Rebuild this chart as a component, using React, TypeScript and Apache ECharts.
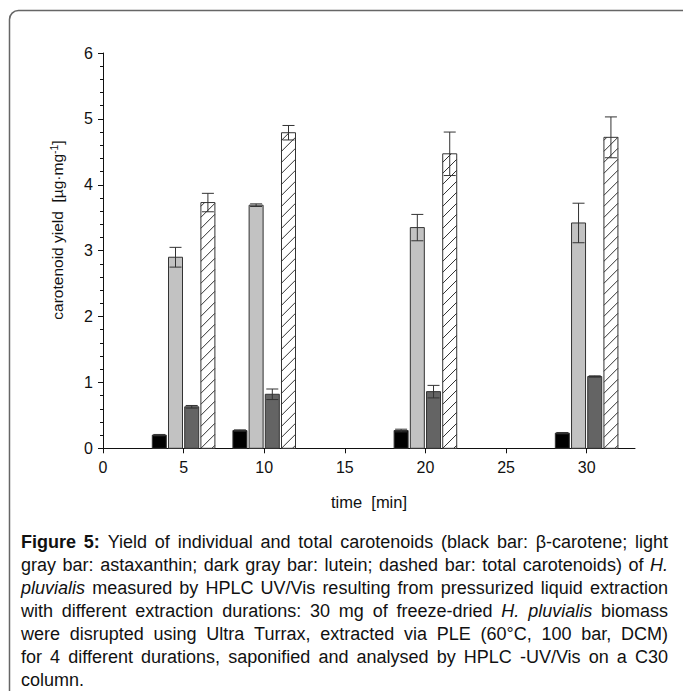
import React, { useEffect, useRef } from "react";
import * as echarts from "echarts";

// ---- data ----
const times = [5, 10, 20, 30];
const betaCarotene = [0.2, 0.27, 0.27, 0.23];
const betaCaroteneErr = [0.01, 0.01, 0.02, 0.01];
const astaxanthin = [2.9, 3.69, 3.35, 3.42];
const astaxanthinErr = [0.15, 0.02, 0.2, 0.3];
const lutein = [0.63, 0.82, 0.86, 1.09];
const luteinErr = [0.02, 0.08, 0.095, 0.01];
const totalCarotenoids = [3.73, 4.79, 4.47, 4.72];
const totalCarotenoidsErr = [0.14, 0.11, 0.33, 0.31];
const xTickValues = [0, 5, 10, 15, 20, 25, 30];

const xAxisTitle = "time  [min]";
const captionLines = [
  "**Figure** **5:** Yield of individual and total carotenoids (black bar: β-carotene; light",
  "gray bar: astaxanthin; dark gray bar: lutein; dashed bar: total carotenoids) of *H.*",
  "*pluvialis* measured by HPLC UV/Vis resulting from pressurized liquid extraction",
  "with different extraction durations: 30 mg of freeze-dried *H.* *pluvialis* biomass",
  "were disrupted using Ultra Turrax, extracted via PLE (60°C, 100 bar, DCM)",
  "for 4 different durations, saponified and analysed by HPLC -UV/Vis on a C30",
  "column.",
];

const FONT = '"Liberation Sans", Arial, sans-serif';

function makeRender(offset: number, fill: string, hatched: boolean) {
  return (params: any, api: any) => {
    const t = api.value(0);
    const v = api.value(1);
    const e = api.value(2);
    const top = api.coord([t, v]);
    const base = api.coord([t, 0]);
    const hi = api.coord([t, v + e]);
    const lo = api.coord([t, v - e]);
    const w = 14;
    const cx = top[0] + offset;
    const x0 = cx - w / 2;
    const yTop = top[1];
    const yBase = base[1];
    const children: any[] = [];
    children.push({
      type: "rect",
      shape: { x: x0, y: yTop, width: w, height: yBase - yTop },
      style: { fill, stroke: "#333", lineWidth: 1 },
    });
    if (hatched) {
      const step = 11;
      for (let c = yBase + w - 3; c > yTop; c -= step) {
        const uMin = Math.max(0, c - yBase);
        const uMax = Math.min(w, c - yTop);
        if (uMax - uMin > 0.5) {
          children.push({
            type: "line",
            shape: { x1: x0 + uMin, y1: c - uMin, x2: x0 + uMax, y2: c - uMax },
            style: { stroke: "#333", lineWidth: 1 },
          });
        }
      }
    }
    const cap = 6;
    const es = { stroke: "#333", lineWidth: 1 };
    children.push({ type: "line", shape: { x1: cx, y1: hi[1], x2: cx, y2: lo[1] }, style: es });
    children.push({ type: "line", shape: { x1: cx - cap, y1: hi[1], x2: cx + cap, y2: hi[1] }, style: es });
    children.push({ type: "line", shape: { x1: cx - cap, y1: lo[1], x2: cx + cap, y2: lo[1] }, style: es });
    return { type: "group", children };
  };
}

function buildCaption(): any[] {
  const els: any[] = [];
  const canvas = document.createElement("canvas");
  const ctx = canvas.getContext("2d") as CanvasRenderingContext2D;
  const size = 18;
  const L = 21;
  const R = 668;
  const y0 = 542;
  const lh = 23;
  captionLines.forEach((line, li) => {
    const words = line.split(" ").filter((w) => w.length > 0).map((raw) => {
      let bold = false;
      let italic = false;
      let text = raw;
      if (text.startsWith("**") && text.endsWith("**")) {
        bold = true;
        text = text.slice(2, -2);
      } else if (text.startsWith("*") && text.endsWith("*")) {
        italic = true;
        text = text.slice(1, -1);
      }
      const font = `${italic ? "italic " : ""}${bold ? "bold " : ""}${size}px ${FONT}`;
      ctx.font = font;
      const width = ctx.measureText(text).width;
      return { text, bold, italic, width };
    });
    const sum = words.reduce((a, w) => a + w.width, 0);
    const last = li === captionLines.length - 1;
    ctx.font = `${size}px ${FONT}`;
    const spaceW = ctx.measureText(" ").width;
    let gap = last || words.length < 2 ? spaceW : (R - L - sum) / (words.length - 1);
    if (gap < spaceW * 0.6) gap = spaceW * 0.6;
    let x = L;
    words.forEach((w) => {
      els.push({
        type: "text",
        x,
        y: y0 + li * lh,
        style: {
          text: w.text,
          fontSize: size,
          fontFamily: FONT,
          fontWeight: w.bold ? "bold" : "normal",
          fontStyle: w.italic ? "italic" : "normal",
          fill: "#111",
          align: "left",
          verticalAlign: "middle",
        },
      });
      x += w.width + gap;
    });
  });
  return els;
}

export default function App() {
  const ref = useRef<HTMLDivElement>(null);
  useEffect(() => {
    if (!ref.current) return;
    const chart = echarts.init(ref.current, null, { renderer: "svg" });
    const mk = (vals: number[], errs: number[]) => times.map((t, i) => [t, vals[i], errs[i]]);
    const option: any = {
      animation: false,
      backgroundColor: "#fff",
      grid: { left: 103, top: 53, width: 532, height: 395.3, containLabel: false },
      xAxis: {
        type: "value",
        min: 0,
        max: 33,
        interval: 5,
        axisLine: { show: true, lineStyle: { color: "#111", width: 1 } },
        axisTick: { show: true, length: 5, inside: false, lineStyle: { color: "#111" }, customValues: xTickValues },
        axisLabel: { margin: 11, color: "#111", fontSize: 16, fontFamily: FONT, customValues: xTickValues },
        splitLine: { show: false },
      },
      yAxis: {
        type: "value",
        min: 0,
        max: 6,
        interval: 1,
        axisLine: { show: true, lineStyle: { color: "#111", width: 1 } },
        axisTick: { show: true, length: 5, inside: false, lineStyle: { color: "#111" } },
        minorTick: { show: true, splitNumber: 5, length: 3, lineStyle: { color: "#111" } },
        axisLabel: { margin: 10, color: "#111", fontSize: 16, fontFamily: FONT },
        splitLine: { show: false },
      },
      graphic: [
        {
          type: "rect",
          shape: { x: 9.5, y: 10.5, width: 690, height: 700, r: 9 },
          style: { fill: "none", stroke: "#666", lineWidth: 1.5 },
          silent: true,
        },
        {
          type: "text",
          x: 57,
          y: 230,
          rotation: Math.PI / 2,
          style: {
            text: "{a|carotenoid yield  [µg·mg}{s|-1}{a|]}",
            rich: {
              a: { fontSize: 15.5, fontFamily: FONT, fill: "#111", lineHeight: 18 },
              s: { fontSize: 10.5, fontFamily: FONT, fill: "#111", verticalAlign: "top", lineHeight: 18, padding: [0, 0, 6, 0] },
            },
            align: "center",
            verticalAlign: "middle",
          },
        },
        {
          type: "text",
          x: 369,
          y: 502,
          style: {
            text: xAxisTitle,
            fontSize: 16.5,
            fontFamily: FONT,
            fill: "#111",
            align: "center",
            verticalAlign: "middle",
          },
        },
        ...buildCaption(),
      ],
      series: [
        { name: "β-carotene", type: "custom", renderItem: makeRender(-24.3, "#000", false), data: mk(betaCarotene, betaCaroteneErr), encode: { x: 0, y: 1 }, clip: false },
        { name: "astaxanthin", type: "custom", renderItem: makeRender(-8.1, "#c2c2c2", false), data: mk(astaxanthin, astaxanthinErr), encode: { x: 0, y: 1 }, clip: false },
        { name: "lutein", type: "custom", renderItem: makeRender(8.1, "#646464", false), data: mk(lutein, luteinErr), encode: { x: 0, y: 1 }, clip: false },
        { name: "total carotenoids", type: "custom", renderItem: makeRender(24.3, "#fff", true), data: mk(totalCarotenoids, totalCarotenoidsErr), encode: { x: 0, y: 1 }, clip: false },
      ],
    };
    chart.setOption(option);
    return () => chart.dispose();
  }, []);
  return (
    <div
      ref={ref}
      style={{ position: "fixed", left: 0, top: 0, width: 683, height: 691, background: "#fff" }}
    />
  );
}
